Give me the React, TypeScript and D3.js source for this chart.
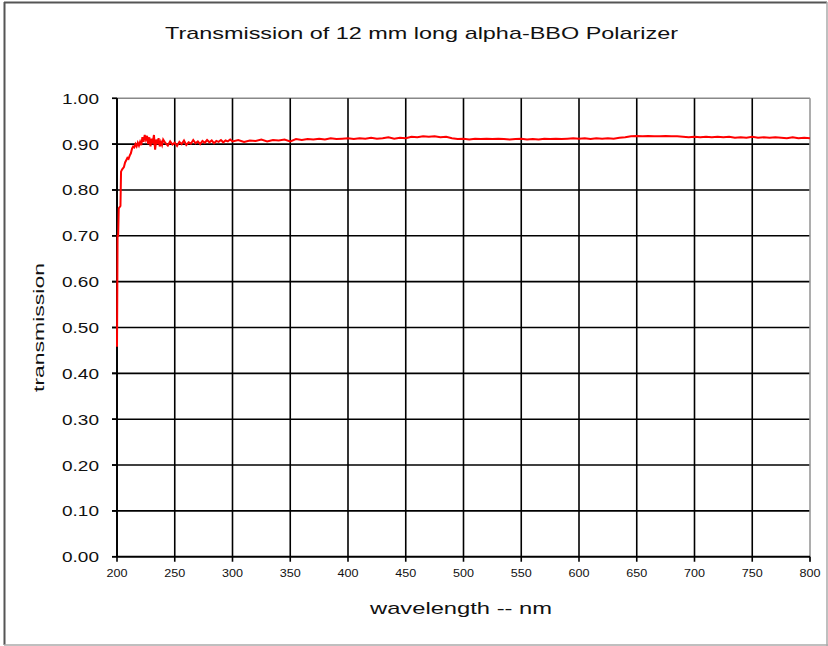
import React from "react";
import * as d3 from "d3";

const wavelengths: number[] = [
  200, 200.5, 201, 201.5, 203, 203.5, 204.5, 206, 207, 208, 209, 210, 211, 212, 213, 214, 215, 216, 217, 218, 219, 220,
  221, 222, 223, 224, 225, 226, 227, 228, 229, 230, 231, 232, 233, 234, 235, 236, 237, 238, 239, 240,
  242, 244, 246, 248, 250, 252, 254, 256, 258, 260, 262, 264, 266, 268, 270, 272, 274, 276, 278, 280,
  282, 284, 286, 288, 290, 292, 294, 296, 298, 300,
  305, 310, 315, 320, 325, 330, 335, 340, 345, 350, 355, 360, 365, 370, 375, 380, 385, 390, 395, 400,
  405, 410, 415, 420, 425, 430, 435, 440, 445, 450, 455, 460, 465, 470, 475, 480, 485, 490, 495, 500,
  505, 510, 515, 520, 525, 530, 535, 540, 545, 550, 555, 560, 565, 570, 575, 580, 585, 590, 595, 600,
  605, 610, 615, 620, 625, 630, 635, 640, 645, 650, 655, 660, 665, 670, 675, 680, 685, 690, 695, 700,
  705, 710, 715, 720, 725, 730, 735, 740, 745, 750, 755, 760, 765, 770, 775, 780, 785, 790, 795, 800,
];

const transmission: number[] = [
  0.458, 0.70, 0.70, 0.76, 0.765, 0.84, 0.845, 0.85, 0.86, 0.865, 0.87, 0.868, 0.875, 0.88, 0.89, 0.895, 0.893, 0.9, 0.895, 0.903, 0.897, 0.905,
  0.898, 0.915, 0.905, 0.92, 0.91, 0.918, 0.9, 0.915, 0.895, 0.912, 0.905, 0.92, 0.888, 0.91, 0.9, 0.913, 0.895, 0.905, 0.898, 0.91,
  0.902, 0.897, 0.906, 0.899, 0.903, 0.896, 0.905, 0.9, 0.908, 0.898, 0.904, 0.901, 0.909, 0.902, 0.906, 0.9, 0.907, 0.903, 0.909, 0.904,
  0.908, 0.902, 0.907, 0.905, 0.909, 0.904, 0.908, 0.906, 0.91, 0.906,
  0.909, 0.905, 0.908, 0.907, 0.91, 0.906, 0.909, 0.908, 0.91, 0.906, 0.911, 0.909, 0.911, 0.91, 0.912, 0.91, 0.913, 0.911, 0.912, 0.913,
  0.911, 0.913, 0.912, 0.914, 0.912, 0.913, 0.915, 0.912, 0.914, 0.913, 0.916, 0.915, 0.917, 0.916, 0.917, 0.915, 0.916, 0.913, 0.911, 0.912,
  0.91, 0.912, 0.911, 0.912, 0.911, 0.912, 0.911, 0.91, 0.911, 0.912, 0.91, 0.911, 0.91, 0.912, 0.911, 0.912, 0.911, 0.912, 0.913, 0.912,
  0.913, 0.911, 0.913, 0.912, 0.913, 0.912, 0.914, 0.915, 0.917, 0.918, 0.917, 0.918, 0.917, 0.917, 0.918, 0.917, 0.917, 0.916, 0.915, 0.916,
  0.915, 0.916, 0.915, 0.916, 0.915, 0.916, 0.914, 0.915, 0.914, 0.916, 0.914, 0.915, 0.914, 0.915, 0.914, 0.913, 0.915, 0.913, 0.914, 0.913,
];

const xTicks: number[] = [200, 250, 300, 350, 400, 450, 500, 550, 600, 650, 700, 750, 800];
const yTicks: number[] = [0, 0.1, 0.2, 0.3, 0.4, 0.5, 0.6, 0.7, 0.8, 0.9, 1.0];

const TITLE = "Transmission of 12 mm long alpha-BBO Polarizer";
const X_LABEL = "wavelength -- nm";
const Y_LABEL = "transmission";

const W = 828;
const H = 646;
const left = 117;
const right = 810;
const top = 98.3;
const bottom = 556.7;
const FONT = "'Liberation Sans', Arial, sans-serif";

export default function App() {
  const x = d3.scaleLinear().domain([200, 800]).range([left, right]);
  const y = d3.scaleLinear().domain([0, 1]).range([bottom, top]);
  const pts: [number, number][] = wavelengths.map((w, i) => [w, transmission[i]]);
  const line = d3
    .line<[number, number]>()
    .x((d) => x(d[0]))
    .y((d) => y(d[1]));

  return (
    <svg
      width={W}
      height={H}
      style={{ position: "absolute", left: 0, top: 0, background: "#fff" }}
      fontFamily={FONT}
    >
      <rect x={0} y={0} width={W} height={H} fill="#fff" />
      {/* outer frame */}
      <line x1={4} y1={2.5} x2={W - 1} y2={2.5} stroke="#555" strokeWidth={2} />
      <line x1={4.5} y1={2} x2={4.5} y2={H - 1} stroke="#555" strokeWidth={2} />
      <line x1={4} y1={H - 1} x2={W} y2={H - 1} stroke="#aaa" strokeWidth={1.5} />
      <line x1={W - 1} y1={2} x2={W - 1} y2={H} stroke="#aaa" strokeWidth={1.5} />

      <text x={165} y={39} fontSize={17} fill="#111" textLength={513} lengthAdjust="spacingAndGlyphs">
        {TITLE}
      </text>

      {/* horizontal gridlines */}
      {yTicks.map((t) => (
        <g key={"y" + t}>
          <line
            x1={left - 5}
            x2={right}
            y1={y(t)}
            y2={y(t)}
            stroke={t === 1 ? "#888" : "#000"}
            strokeWidth={1.6}
          />
          <line x1={left - 5} x2={left} y1={y(t)} y2={y(t)} stroke="#000" strokeWidth={1.6} />
          <text
            x={62}
            y={y(t) + 5.5}
            fontSize={15}
            fill="#111"
            textLength={37}
            lengthAdjust="spacingAndGlyphs"
          >
            {t.toFixed(2)}
          </text>
        </g>
      ))}

      {/* vertical gridlines */}
      {xTicks.map((t) => (
        <g key={"x" + t}>
          <line
            x1={x(t)}
            x2={x(t)}
            y1={top}
            y2={bottom + 5}
            stroke={t === 800 ? "#999" : "#000"}
            strokeWidth={1.6}
          />
          {t === 800 && (
            <line x1={x(t)} x2={x(t)} y1={bottom} y2={bottom + 5} stroke="#000" strokeWidth={1.6} />
          )}
          <text
            x={x(t) - 10.5}
            y={577}
            fontSize={11}
            fill="#111"
            textLength={21}
            lengthAdjust="spacingAndGlyphs"
          >
            {t}
          </text>
        </g>
      ))}

      <line x1={left} x2={right} y1={bottom} y2={bottom} stroke="#000" strokeWidth={1.8} />
      <line x1={left} x2={left} y1={top} y2={bottom} stroke="#000" strokeWidth={1.8} />

      <path d={line(pts) ?? ""} fill="none" stroke="#ff0000" strokeWidth={2} strokeLinejoin="miter" />

      <text x={370} y={614} fontSize={17} fill="#111" textLength={182} lengthAdjust="spacingAndGlyphs">
        {X_LABEL}
      </text>
      <text
        transform={`translate(44,392) rotate(-90)`}
        fontSize={15}
        fill="#111"
        textLength={129}
        lengthAdjust="spacingAndGlyphs"
      >
        {Y_LABEL}
      </text>
    </svg>
  );
}
